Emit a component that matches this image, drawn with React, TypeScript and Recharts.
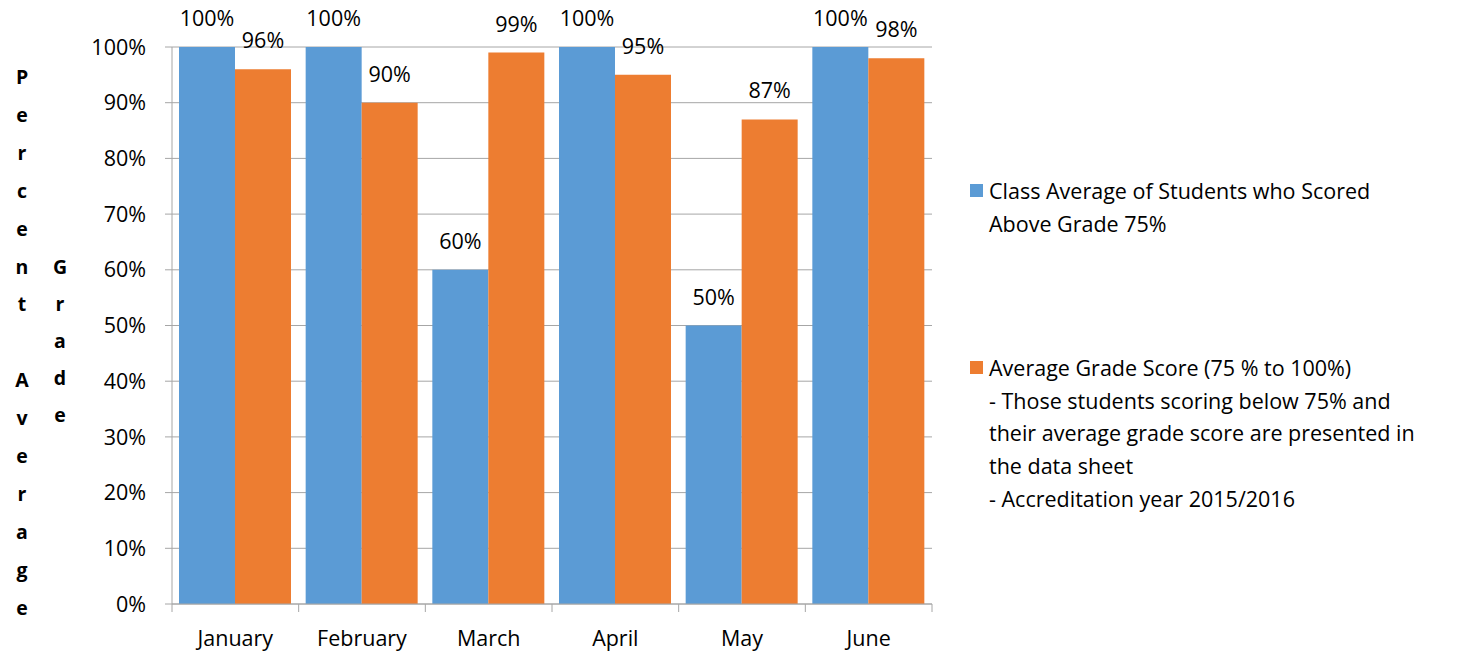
import {
  BarChart,
  Bar,
  XAxis,
  YAxis,
  CartesianGrid,
  Legend,
  LabelList,
} from "recharts";

const months = ["January", "February", "March", "April", "May", "June"];
const aboveGrade75 = [100, 100, 60, 100, 50, 100];
const avgGradeScore = [96, 90, 99, 95, 87, 98];
const yTicks = [0, 10, 20, 30, 40, 50, 60, 70, 80, 90, 100];

const legendLines: Record<string, string[]> = {
  above: ["Class Average of Students who Scored", "Above Grade 75%"],
  avg: [
    "Average Grade Score (75 % to 100%)",
    "- Those students scoring below 75% and",
    "their average grade score are presented in",
    "the data sheet",
    "- Accreditation year 2015/2016",
  ],
};

const axisTitleCol1 = ["P", "e", "r", "c", "e", "n", "t", "", "A", "v", "e", "r", "a", "g", "e"];
const axisTitleCol2 = ["G", "r", "a", "d", "e"];

const data = months.map((m, i) => ({
  month: m,
  above: aboveGrade75[i],
  avg: avgGradeScore[i],
}));

const FONT = "'Open Sans', sans-serif";
const BLUE = "#5b9bd5";
const ORANGE = "#ed7d31";
const GRID = "#a6a6a6";

const W = 1463;
const H = 655;
const M = { top: 47, right: 531, bottom: 11, left: 112 };
const BAND = (W - M.left - 60 - M.right) / months.length;

function MonthTick(props: any) {
  const { x, y, payload, index } = props;
  return (
    <g>
      <line x1={x - BAND / 2} x2={x - BAND / 2} y1={y - 8} y2={y} stroke={GRID} />
      {index === months.length - 1 && (
        <line x1={x + BAND / 2} x2={x + BAND / 2} y1={y - 8} y2={y} stroke={GRID} />
      )}
      <text
        x={x}
        y={y + 34}
        textAnchor="middle"
        fill="#000"
        fontSize={21.5}
        fontFamily={FONT}
      >
        {payload.value}
      </text>
    </g>
  );
}

function AxisTitle() {
  return (
    <g fontFamily={FONT} fontWeight="bold" fontSize={19.5} fill="#000">
      {axisTitleCol1.map((c, i) => (
        <text key={"a" + i} x={22} y={84 + i * 37.9} textAnchor="middle">
          {c}
        </text>
      ))}
      {axisTitleCol2.map((c, i) => (
        <text key={"b" + i} x={60} y={274 + i * 37.1} textAnchor="middle">
          {c}
        </text>
      ))}
    </g>
  );
}

function LegendBox(props: any) {
  const { payload } = props;
  const tops = [175, 352];
  return (
    <div style={{ position: "relative", width: 0, height: 0, overflow: "visible", fontFamily: FONT }}>
      {(payload || []).map((p: any, i: number) => (
        <div
          key={p.dataKey}
          style={{ position: "absolute", left: 0, top: tops[i] - 175, display: "flex" }}
        >
          <div
            style={{
              width: 13,
              height: 13,
              background: p.color,
              marginTop: 9,
              marginRight: 6,
              flex: "none",
            }}
          />
          <div style={{ fontSize: 21.5, lineHeight: "32.7px", color: "#000" }}>
            {legendLines[p.dataKey].map((l, j) => (
              <div key={j} style={{ whiteSpace: "nowrap" }}>
                {l}
              </div>
            ))}
          </div>
        </div>
      ))}
    </div>
  );
}

export default function App() {
  return (
    <div style={{ position: "absolute", left: 0, top: 0, width: W, height: H, background: "#fff" }}>
      <BarChart
        width={W}
        height={H}
        data={data}
        margin={M}
        barSize={56}
        barGap={0}
      >
        <CartesianGrid vertical={false} stroke={GRID} />
        <XAxis
          dataKey="month"
          height={40}
          stroke={GRID}
          tickLine={false}
          tick={<MonthTick />}
          interval={0}
        />
        <YAxis
          width={60}
          domain={[0, 100]}
          ticks={yTicks}
          interval={0}
          tickFormatter={(v: number) => `${v}%`}
          stroke={GRID}
          tickSize={7}
          tickMargin={19}
          tick={{ fill: "#000", fontSize: 21.5, fontFamily: FONT }}
        />
        <Legend
          layout="vertical"
          content={<LegendBox />}
          wrapperStyle={{ position: "absolute", left: 970, top: 175, width: 0, height: 0 }}
        />
        <Bar dataKey="above" fill={BLUE} isAnimationActive={false}>
          <LabelList
            dataKey="above"
            position="top"
            offset={21}
            formatter={(v: any) => `${v}%`}
            fill="#000"
            fontSize={21.5}
            fontFamily={FONT}
          />
        </Bar>
        <Bar dataKey="avg" fill={ORANGE} isAnimationActive={false}>
          <LabelList
            dataKey="avg"
            position="top"
            offset={21}
            formatter={(v: any) => `${v}%`}
            fill="#000"
            fontSize={21.5}
            fontFamily={FONT}
          />
        </Bar>
        <AxisTitle />
      </BarChart>
    </div>
  );
}
